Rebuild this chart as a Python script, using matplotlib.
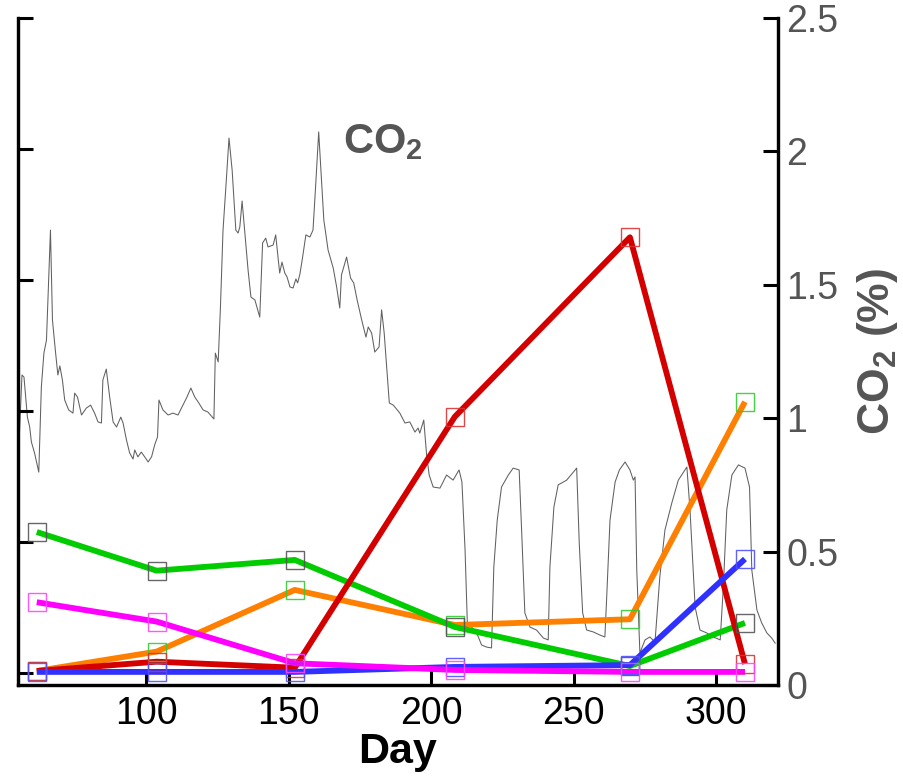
import matplotlib
matplotlib.use("Agg")
import matplotlib.pyplot as plt

plt.rcParams.update({
    "font.family": ["Liberation Sans", "DejaVu Sans"],
    "mathtext.fontset": "custom",
    "mathtext.rm": "Liberation Sans",
    "mathtext.bf": "Liberation Sans:bold",
})

# sampling days for the coloured series
days = [61.5, 103.6, 152.1, 208.3, 269.8, 310.2]
green = [1.076, 0.781, 0.863, 0.351, 0.053, 0.382]
orange = [0.015, 0.163, 0.634, 0.366, 0.410, 2.070]
red = [0.015, 0.086, 0.040, 1.956, 3.326, 0.069]
blue = [0.008, 0.008, 0.008, 0.046, 0.060, 0.870]
magenta = [0.540, 0.392, 0.074, 0.023, 0.008, 0.008]

# CO2 record (right axis, %)
co2_day = [
    55.0, 56.3, 57.0, 58.2, 59.0, 59.6, 60.7, 62.2, 63.1, 64.0, 64.9, 66.3, 67.0, 68.0,
    68.9, 69.6, 70.5, 71.3, 72.7, 74.2, 74.8, 75.8, 77.2, 78.9, 80.4, 81.8, 83.0, 84.2,
    84.7, 85.9, 87.1, 88.3, 89.5, 91.0, 91.8, 93.0, 94.1, 95.3, 95.9, 97.0, 98.2, 99.4,
    100.6, 101.8, 102.9, 103.9, 104.4, 105.8, 107.6, 109.3, 111.1, 112.3, 114.1, 115.6,
    117.0, 118.4, 119.9, 121.6, 123.1, 123.7, 124.2, 125.2, 126.0, 126.9, 127.9, 129.0,
    130.1, 131.4, 132.2, 132.8, 133.6, 134.5, 135.7, 136.7, 138.1, 139.8, 140.8, 141.9,
    142.7, 144.5, 145.4, 146.8, 147.6, 148.6, 149.4, 150.4, 151.5, 152.5, 153.1, 153.9,
    154.8, 156.0, 157.4, 158.5, 159.4, 160.5, 161.5, 162.3, 163.8, 165.6, 166.8, 167.9,
    168.5, 170.3, 171.7, 172.8, 174.0, 175.6, 177.1, 177.9, 179.1, 180.2, 181.7, 182.6,
    183.5, 185.3, 186.7, 189.0, 190.8, 192.5, 194.3, 195.4, 196.0, 197.4, 198.4, 199.3,
    200.7, 203.1, 205.4, 207.7, 209.8, 210.8, 211.9, 212.7, 214.2, 216.0, 217.7, 219.5,
    221.2, 222.0, 223.2, 224.7, 227.1, 228.8, 230.9, 231.8, 232.9, 234.7, 237.0, 239.4,
    241.1, 241.7, 243.1, 244.6, 247.6, 251.1, 252.0, 253.2, 254.6, 256.9, 259.3, 261.0,
    261.6, 262.8, 264.6, 266.1, 268.1, 269.8, 271.0, 271.6, 272.2, 273.3, 275.1, 276.8,
    278.6, 280.3, 282.1, 284.5, 286.8, 289.8, 290.9, 292.7, 294.4, 296.8, 299.1, 301.5,
    302.6, 303.8, 305.6, 307.9, 310.2, 311.8, 312.6, 314.4, 316.1, 317.9, 319.6, 320.8,
]
co2_pct = [
    0.843, 1.162, 1.154, 1.004, 0.967, 0.911, 0.870, 0.798, 1.117, 1.244, 1.293, 1.705, 1.368, 1.256,
    1.162, 1.196, 1.143, 1.068, 1.031, 1.019, 1.094, 1.079, 1.012, 1.038, 1.049, 1.019, 0.986, 0.982,
    1.143, 1.184, 1.079, 0.986, 0.967, 1.004, 0.982, 0.918, 0.870, 0.847, 0.881, 0.855, 0.873, 0.855,
    0.836, 0.855, 0.900, 0.930, 1.068, 1.031, 1.012, 1.019, 1.012, 1.038, 1.076, 1.113,
    1.079, 1.057, 1.031, 1.023, 1.004, 0.997, 1.244, 1.211, 1.417, 1.705, 1.866, 2.050,
    1.930, 1.705, 1.694, 1.717, 1.814, 1.705, 1.555, 1.454, 1.443, 1.379, 1.657, 1.675,
    1.642, 1.649, 1.687, 1.544, 1.585, 1.544, 1.529, 1.492, 1.488, 1.522, 1.507, 1.540,
    1.600, 1.687, 1.679, 1.705, 1.866, 2.073, 1.893, 1.743, 1.630, 1.563, 1.492, 1.413,
    1.537, 1.604, 1.525, 1.507, 1.443, 1.368, 1.304, 1.342, 1.319, 1.248, 1.267, 1.406,
    1.319, 1.057, 1.049, 1.019, 0.982, 0.986, 0.948, 0.963, 0.944, 0.993, 0.862, 0.787,
    0.742, 0.738, 0.787, 0.768, 0.806, 0.761, 0.506, 0.232, 0.217, 0.195, 0.150, 0.142,
    0.139, 0.442, 0.618, 0.742, 0.787, 0.813, 0.806, 0.570, 0.270, 0.217, 0.206, 0.176,
    0.169, 0.442, 0.667, 0.750, 0.768, 0.813, 0.532, 0.270, 0.206, 0.199, 0.187, 0.180,
    0.319, 0.618, 0.761, 0.806, 0.836, 0.806, 0.768, 0.780, 0.431, 0.120, 0.169, 0.180,
    0.161, 0.405, 0.581, 0.682, 0.768, 0.817, 0.656, 0.292, 0.206, 0.195, 0.180, 0.169,
    0.367, 0.656, 0.787, 0.825, 0.813, 0.742, 0.431, 0.281, 0.232, 0.195, 0.176, 0.157,
]

xticks = [100, 150, 200, 250, 300]
right_ticks = [0, 0.5, 1, 1.5, 2, 2.5]
right_ticklabels = ["0", "0.5", "1", "1.5", "2", "2.5"]

grey = "#555555"

fig = plt.figure(figsize=(9.04, 7.79), dpi=100)
ax = fig.add_axes([18 / 904, 1 - 685 / 779, 760 / 904, 667 / 779])
ax2 = ax.twinx()
ax.set_zorder(ax2.get_zorder() + 1)
ax.patch.set_visible(False)

# CO2 trace on the right axis
ax2.plot(co2_day, co2_pct, color="#606060", lw=0.75)
ax2.set_ylim(0, 2.5)
ax2.set_yticks(right_ticks, right_ticklabels)

# coloured series: (values, line colour, marker colour)
series = [
    (orange, "#ff8000", "#33cc33"),
    (green, "#00cc00", "#555555"),
    (red, "#d40000", "#dd3333"),
    (blue, "#3030ff", "#5050ff"),
    (magenta, "#ff00ff", "#ff44ff"),
]
for vals, lc, mc in series:
    ax.plot(days, vals, color=lc, lw=4.2, solid_capstyle="butt", zorder=3)
for vals, lc, mc in series:
    ax.plot(days, vals, ls="none", marker="s", ms=13, mfc="none",
            mec=mc, mew=1.0, alpha=0.9, zorder=4)

ax.set_xlim(54.9, 321.8)
ax.set_ylim(-0.092, 5.0)
ax.set_yticks(range(6))
ax.set_yticklabels([])
ax.set_xticks(xticks)

for a in (ax, ax2):
    a.spines["top"].set_visible(False)
    for s in ("left", "right", "bottom"):
        a.spines[s].set_linewidth(2.3)

ax.tick_params(axis="x", direction="in", length=11, width=2.2, labelsize=27,
               pad=8, colors="black")
ax.tick_params(axis="y", direction="in", length=11, width=2.2)
ax2.tick_params(axis="y", direction="in", length=11, width=2.2, labelsize=27,
                labelcolor=grey, pad=6)

ax.set_xlabel("Day", fontsize=31, fontweight="bold", labelpad=0)
ax2.set_ylabel(r"CO$_\mathbf{2}$ (%)", fontsize=32, fontweight="bold",
               color=grey, labelpad=12)
ax2.text(169.0, 1.994, r"CO$_\mathbf{2}$", fontsize=30, fontweight="bold",
         color=grey, ha="left", va="baseline")

fig.savefig("out.png", dpi=100)
